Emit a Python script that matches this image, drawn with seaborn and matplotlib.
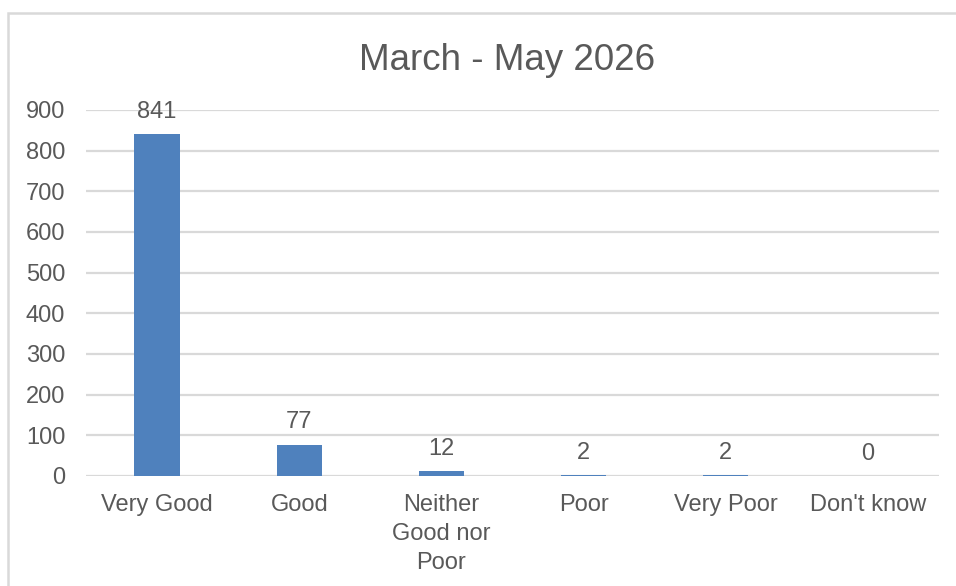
import matplotlib
matplotlib.use("Agg")
import matplotlib.pyplot as plt
import seaborn as sns
from matplotlib.patches import Rectangle

# Data
categories = ["Very Good", "Good", "Neither\nGood nor\nPoor", "Poor", "Very Poor", "Don't know"]
counts = [841, 77, 12, 2, 2, 0]
title = "March - May 2026"

sns.set_style("white")
plt.rcParams["font.family"] = ["Liberation Sans", "DejaVu Sans"]

text_col = "#595959"
grid_col = "#D9D9D9"

fig = plt.figure(figsize=(9.56, 5.86), dpi=100)
ax = fig.add_axes([86 / 956, 1 - 476 / 586, 853 / 956, 366 / 586])

sns.barplot(x=categories, y=counts, color="#4F81BD", width=0.32,
            saturation=1, linewidth=0, ax=ax, zorder=3)

ax.set_ylim(0, 900)
ax.set_yticks(range(0, 901, 100))
ax.yaxis.grid(True, color=grid_col, linewidth=1.6, zorder=0)
ax.set_axisbelow(True)
for s in ax.spines.values():
    s.set_visible(False)
ax.tick_params(axis="both", length=0, labelsize=17, labelcolor=text_col)
ax.tick_params(axis="x", pad=13)
ax.tick_params(axis="y", pad=15)
for lbl in ax.get_xticklabels():
    lbl.set_linespacing(1.4)
ax.set_xlabel("")
ax.set_ylabel("")

# data labels
for i, v in enumerate(counts):
    ax.annotate(str(v), (i, v), xytext=(0, 16), textcoords="offset points",
                ha="center", va="center", fontsize=17, color=text_col)

fig.text(507 / 956, 1 - 60 / 586, title, ha="center", va="center",
         fontsize=26.5, color=text_col)

# chart frame
fig.patches.append(Rectangle((8 / 956, -0.05), 1.1, 1 - 13 / 586 + 0.05,
                             transform=fig.transFigure, fill=False,
                             edgecolor=grid_col, linewidth=1.8))

fig.savefig("out.png", dpi=100)
